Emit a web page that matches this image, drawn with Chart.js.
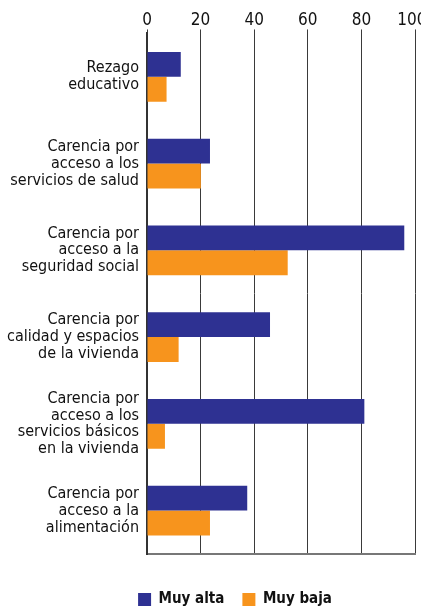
<!DOCTYPE html>
<html lang="es">
<head>
  <meta charset="UTF-8">
  <title>Carencias sociales</title>
  <script src="https://cdn.jsdelivr.net/npm/chart.js"></script>
  <style>
    html, body { margin: 0; padding: 0; background: #fff; overflow: hidden; }
    #wrap { width: 421px; height: 617px; }
  </style>
</head>
<body>
  <div id="wrap"><canvas id="chartCanvas"></canvas></div>

  <script>
    const categories = [
      ["Rezago", "educativo"],
      ["Carencia por", "acceso a los", "servicios de salud"],
      ["Carencia por", "acceso a la", "seguridad social"],
      ["Carencia por", "calidad y espacios", "de la vivienda"],
      ["Carencia por", "acceso a los", "servicios básicos", "en la vivienda"],
      ["Carencia por", "acceso a la", "alimentación"]
    ];
    const muyAlta = [12.6, 23.5, 96.0, 45.9, 81.1, 37.4];
    const muyBaja = [7.3, 20.1, 52.5, 11.8, 6.7, 23.5];
    const xTicks = [0, 20, 40, 60, 80, 100];

    const fontFamily = "'Liberation Sans Narrow', 'DejaVu Sans Condensed', 'Liberation Sans', sans-serif";

    // keep the legend centred under the plot rather than the whole canvas
    const legendShift = {
      id: 'legendShift',
      afterLayout(chart) {
        chart.legend.left = 55;
        chart.legend.right = 415;
        chart.legend.width = 360;
      }
    };

    const ctx = document.getElementById('chartCanvas').getContext('2d');
    new Chart(ctx, {
      type: 'bar',
      data: {
        labels: categories,
        datasets: [
          { label: 'Muy alta', data: muyAlta, backgroundColor: '#2E3192', borderWidth: 0 },
          { label: 'Muy baja', data: muyBaja, backgroundColor: '#F7941D', borderWidth: 0 }
        ]
      },
      options: {
        indexAxis: 'y',
        responsive: true,
        maintainAspectRatio: false,
        animation: false,
        layout: { padding: { left: 0, right: 6, top: 0, bottom: 0 } },
        datasets: {
          bar: { categoryPercentage: 0.575, barPercentage: 1.0 }
        },
        plugins: {
          tooltip: { enabled: false },
          legend: {
            position: 'bottom',
            labels: {
              boxWidth: 13,
              boxHeight: 13,
              padding: 18,
              color: '#111',
              font: { family: fontFamily, size: 15, weight: 'bold' }
            }
          }
        },
        scales: {
          x: {
            type: 'linear',
            position: 'top',
            min: 0,
            max: 100,
            afterBuildTicks: s => { s.ticks = xTicks.map(v => ({ value: v })); },
            afterFit: s => { s.paddingLeft = 0; s.paddingRight = 0; s.height = 31; },
            ticks: {
              color: '#111',
              padding: 0,
              font: { family: fontFamily, size: 17, lineHeight: 1.0 },
              callback: v => v === 100 ? '100\u2009\u2009' : String(v)
            },
            grid: { color: '#3a3a3a', lineWidth: 1, drawTicks: true, tickLength: 4 },
            border: { display: false }
          },
          x2: {
            type: 'linear',
            position: 'bottom',
            min: 0,
            max: 100,
            ticks: { display: false },
            grid: { display: false, drawTicks: false },
            border: { display: true, color: '#777', width: 2 },
            afterFit: s => { s.height = 20; }
          },
          y: {
            afterFit: s => { s.width = 147; },
            ticks: {
              color: '#111',
              padding: 8,
              font: { family: fontFamily, size: 16, lineHeight: 1.06 }
            },
            grid: { display: false, drawTicks: false },
            border: { display: true, color: '#333', width: 2 }
          }
        }
      },
      plugins: [legendShift]
    });
  </script>
</body>
</html>
